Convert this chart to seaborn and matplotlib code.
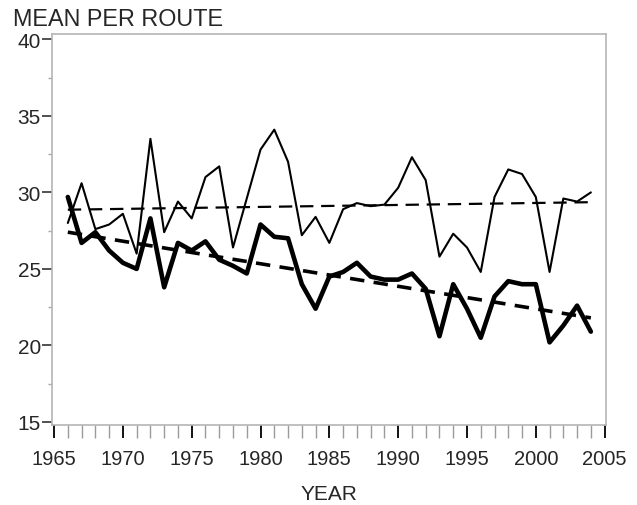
import pandas as pd
import matplotlib.pyplot as plt
import seaborn as sns
from matplotlib.ticker import MultipleLocator

years = list(range(1966, 2005))
thin_vals = [28.0, 30.6, 27.6, 27.9, 28.6, 26.0, 33.5, 27.4, 29.4, 28.3,
             31.0, 31.7, 26.4, 29.6, 32.8, 34.1, 32.0, 27.2, 28.4, 26.7,
             28.9, 29.3, 29.1, 29.2, 30.3, 32.3, 30.8, 25.8, 27.3, 26.4,
             24.8, 29.7, 31.5, 31.2, 29.7, 24.8, 29.6, 29.4, 30.0]
thick_vals = [29.7, 26.7, 27.4, 26.2, 25.4, 25.0, 28.3, 23.8, 26.7, 26.2,
              26.8, 25.6, 25.2, 24.7, 27.9, 27.1, 27.0, 24.0, 22.4, 24.5,
              24.8, 25.4, 24.5, 24.3, 24.3, 24.7, 23.7, 20.6, 24.0, 22.4,
              20.5, 23.2, 24.2, 24.0, 24.0, 20.2, 21.3, 22.6, 20.9]

# trend lines (ends at first and last year)
trend_years = [1966, 2004]
thin_trend = [28.87, 29.36]
thick_trend = [27.4, 21.8]

df = pd.DataFrame({"year": years, "thin": thin_vals, "thick": thick_vals})
tr = pd.DataFrame({"year": trend_years, "thin": thin_trend, "thick": thick_trend})

sns.set_style("white")
plt.rcParams["font.family"] = ["Liberation Sans", "DejaVu Sans"]

fig = plt.figure(figsize=(6.37, 5.06), dpi=100)
ax = fig.add_axes([52 / 637, 1 - 426 / 506, (606 - 52) / 637, (426 - 35) / 506])

# yearly means
sns.lineplot(data=df, x="year", y="thin", ax=ax, color="black", lw=1.5)
sns.lineplot(data=df, x="year", y="thick", ax=ax, color="black", lw=3.3)

# trends
sns.lineplot(data=tr, x="year", y="thin", ax=ax, color="black", lw=1.6,
             dashes=False).lines[-1].set_dashes((6, 3.5))
sns.lineplot(data=tr, x="year", y="thick", ax=ax, color="black", lw=2.6,
             dashes=False).lines[-1].set_dashes((4, 2.6))

ax.set_xlim(1964.85, 2005.1)
ax.set_ylim(14.8, 40.35)
ax.xaxis.set_major_locator(MultipleLocator(5))
ax.xaxis.set_minor_locator(MultipleLocator(1))
ax.yaxis.set_major_locator(MultipleLocator(5))
ax.yaxis.set_minor_locator(MultipleLocator(2.5))
ax.set_xlabel("")
ax.set_ylabel("")

ax.tick_params(axis="x", which="major", direction="out", length=9, width=1.3,
               color="black", pad=8, labelsize=14.5, bottom=True)
ax.tick_params(axis="x", which="minor", direction="out", length=9, width=1,
               color="#9a9a9a", bottom=True)
ax.tick_params(axis="y", which="major", direction="out", length=7, width=1.2,
               color="#333333", pad=1, labelsize=15, left=True)
ax.tick_params(axis="y", which="minor", direction="out", length=3, width=1,
               color="#aaaaaa", left=True)

for s in ax.spines.values():
    s.set_color("#b5b5b5")
    s.set_linewidth(1.2)

fig.text(13 / 637, 1 - 26 / 506, "MEAN PER ROUTE", fontsize=16.8, va="baseline")
fig.text(329 / 637, 1 - 495 / 506, "YEAR", fontsize=15, ha="center", va="center")

fig.savefig("out.png", dpi=100)
